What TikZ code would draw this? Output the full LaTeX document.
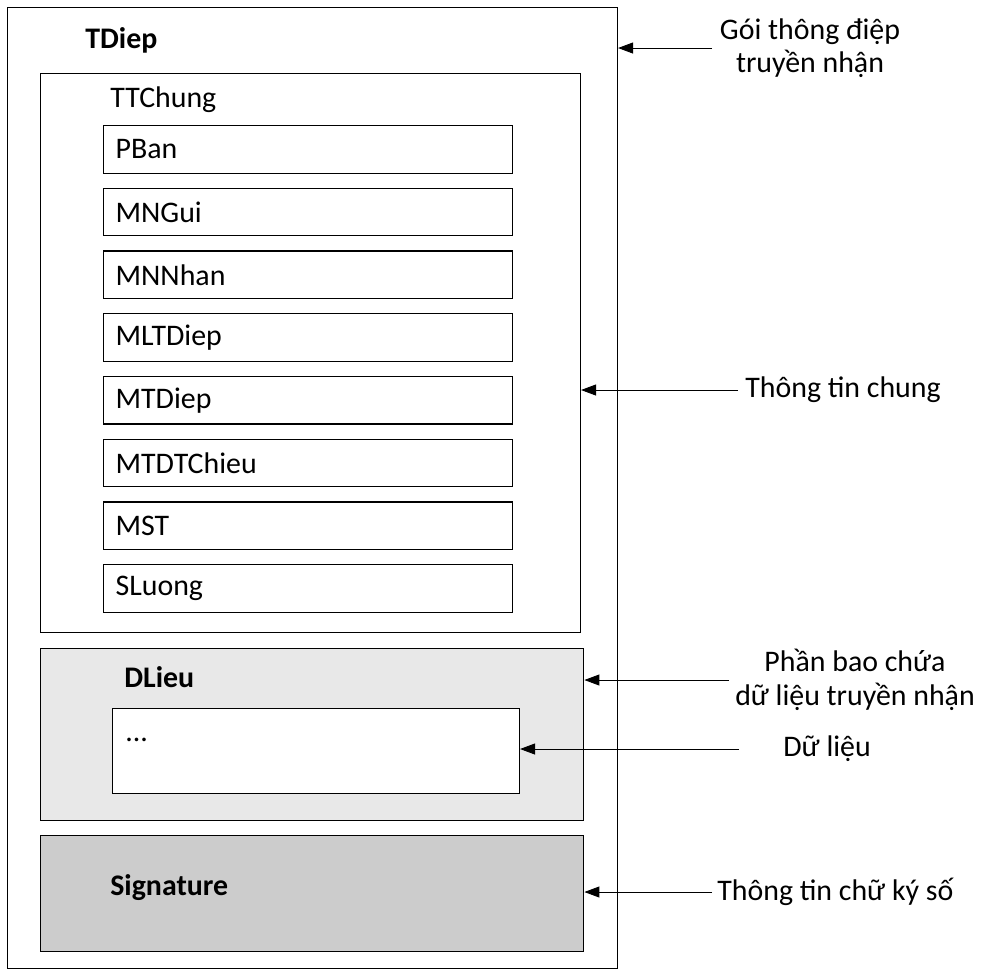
\documentclass[tikz,border=0pt]{standalone}
\usepackage{fontspec}
\setmainfont{Carlito}
\usetikzlibrary{arrows.meta,positioning,calc}

\begin{document}
\begin{tikzpicture}[
  node distance=0.28cm,
  every node/.style={font=\fontsize{17}{19}\selectfont},
  frame/.style={draw, line width=0.6pt, inner sep=0pt, anchor=north west},
  field/.style={draw, line width=0.7pt, anchor=north west, text width=7.7cm, inner xsep=0.24cm, inner ysep=0pt, minimum height=0.95cm, align=left},
  title/.style={anchor=base west, inner sep=0pt},
  note/.style={align=center, inner sep=0pt},
  arr/.style={-{Triangle[length=0.3cm,width=0.22cm]}, line width=0.5pt},
]
  \useasboundingbox (0,0) rectangle (19.64,-19.42);

  % Outer message package
  \node[frame, minimum width=12.2cm, minimum height=19.22cm] (tdiep) at (0.14,-0.14) {};
  \node[title, font=\fontsize{17}{19}\selectfont\bfseries] (tdieplbl) at (1.7,-0.96) {TDiep};

  % General information block
  \node[frame, minimum width=10.8cm, minimum height=11.18cm] (ttchung) at (0.8,-1.46) {};
  \node[title] (ttchunglbl) at (2.2,-2.14) {TTChung};

  \node[field] (pban) at (2.06,-2.5) {PBan};
  \node[field, below=of pban] (mngui) {MNGui};
  \node[field, below=of mngui] (mnnhan) {MNNhan};
  \node[field, below=of mnnhan] (mltdiep) {MLTDiep};
  \node[field, below=of mltdiep] (mtdiep) {MTDiep};
  \node[field, below=of mtdiep] (mtdtchieu) {MTDTChieu};
  \node[field, below=of mtdtchieu] (mst) {MST};
  \node[field, below=of mst] (sluong) {SLuong};

  % Data block
  \node[frame, fill=gray!18, line width=0.8pt, minimum width=10.86cm, minimum height=3.44cm] (dlieu) at (0.8,-12.96) {};
  \node[title, font=\fontsize{17}{19}\selectfont\bfseries] (dlieulbl) at (2.48,-13.74) {DLieu};
  \node[frame, fill=white, minimum width=8.14cm, minimum height=1.7cm] (dlnoi) at (2.24,-14.16) {};
  \node[anchor=west, inner sep=0pt] (dlnoilbl) at (2.5,-14.8) {...};

  % Signature block
  \node[frame, fill=gray!40, line width=0.8pt, minimum width=10.86cm, minimum height=2.32cm] (sig) at (0.8,-16.7) {};
  \node[anchor=west, inner sep=0pt, font=\fontsize{17}{19}\selectfont\bfseries] (siglbl) at (2.2,-17.76) {Signature};

  % Notes on the right
  \node[note] (ngoi) at (16.2,-0.96) {Gói thông điệp\\truyền nhận};
  \node[note, anchor=west] (nchung) at (14.9,-7.8) {Thông tin chung};
  \node[note] (nbao) at (17.1,-13.6) {Phần bao chứa\\dữ liệu truyền nhận};
  \node[note, anchor=west] (ndl) at (15.66,-14.98) {Dữ liệu};
  \node[note, anchor=west] (nky) at (14.34,-17.84) {Thông tin chữ ký số};

  \coordinate (tgoi) at (14.24,-0.96);
  \coordinate (tchung) at (14.76,-7.8);
  \coordinate (tbao) at (14.58,-13.6);
  \coordinate (tdl) at (14.78,-14.98);
  \coordinate (tky) at (14.24,-17.84);

  % Arrows into the blocks
  \draw[arr] (tgoi) -- (tdiep.east |- tgoi);
  \draw[arr] (tchung) -- (ttchung.east |- tchung);
  \draw[arr] (tbao) -- (dlieu.east |- tbao);
  \draw[arr] (tdl) -- (dlnoi.east |- tdl);
  \draw[arr] (tky) -- (sig.east |- tky);
\end{tikzpicture}
\end{document}
